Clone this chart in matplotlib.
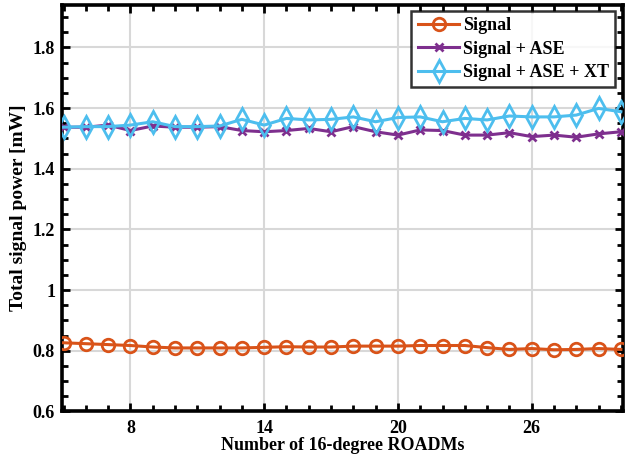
import matplotlib
matplotlib.use("Agg")
import matplotlib.pyplot as plt
from matplotlib.ticker import MultipleLocator

plt.rcParams['font.family'] = ['Liberation Serif', 'DejaVu Serif']
plt.rcParams['font.weight'] = 'bold'

x_roadms = list(range(5, 31))
signal = [0.826, 0.823, 0.820, 0.817, 0.812, 0.809, 0.809, 0.809, 0.809, 0.811, 0.813, 0.812,
          0.812, 0.815, 0.815, 0.815, 0.817, 0.817, 0.817, 0.810, 0.804, 0.807, 0.803, 0.804, 0.807, 0.804]
signal_ase = [1.537, 1.537, 1.544, 1.526, 1.541, 1.537, 1.537, 1.539, 1.526, 1.522, 1.526, 1.533,
              1.522, 1.539, 1.522, 1.511, 1.528, 1.526, 1.511, 1.511, 1.519, 1.506, 1.511, 1.504, 1.515, 1.522]
signal_ase_xt = [1.537, 1.539, 1.539, 1.544, 1.555, 1.539, 1.539, 1.541, 1.563, 1.544, 1.566, 1.561,
                 1.563, 1.571, 1.555, 1.569, 1.571, 1.555, 1.566, 1.561, 1.574, 1.571, 1.571, 1.577, 1.599, 1.588]

labels = ['Signal', 'Signal + ASE', 'Signal + ASE + XT']
xticks = [8, 14, 20, 26]
yticks = [0.6, 0.8, 1.0, 1.2, 1.4, 1.6, 1.8]
yticklabels = ['0.6', '0.8', '1', '1.2', '1.4', '1.6', '1.8']

fig = plt.figure(figsize=(6.3, 4.57), dpi=100)
ax = fig.add_axes([0.0984, 0.1, 0.8906, 0.889])

ax.plot(x_roadms, signal, color='#D95319', lw=2.2, marker='o', ms=9, mfc='none', mew=2, label=labels[0], zorder=3)
ax.plot(x_roadms, signal_ase, color='#7E2F8E', lw=2.2, marker='x', ms=6, mew=2, label=labels[1], zorder=4)
ax.plot(x_roadms, signal_ase_xt, color='#4DBEEE', lw=2.2, marker='d', ms=11, mfc='none', mew=2, label=labels[2], zorder=5)

ax.set_xlim(4.93, 30.1)
ax.set_ylim(0.6, 1.94)
ax.set_xticks(xticks)
ax.set_yticks(yticks)
ax.set_yticklabels(yticklabels)
ax.xaxis.set_minor_locator(MultipleLocator(1))
ax.yaxis.set_minor_locator(MultipleLocator(0.05))
ax.tick_params(which='both', direction='in', top=True, right=True, width=2, labelsize=13)
ax.tick_params(which='major', length=6)
ax.tick_params(which='minor', length=4)
ax.tick_params(axis='x', which='major', pad=6)
ax.tick_params(axis='y', which='major', pad=5)
for lab in ax.get_xticklabels() + ax.get_yticklabels():
    lab.set_fontweight('bold')
for s in ax.spines.values():
    s.set_linewidth(2.6)
ax.grid(True, which='major', color='#d8d8d8', lw=1.5)
ax.set_axisbelow(True)

ax.set_xlabel('Number of 16-degree ROADMs', fontsize=13, fontweight='bold', labelpad=0)
ax.set_ylabel('Total signal power [mW]', fontsize=14, fontweight='bold', labelpad=4)

leg = ax.legend(loc='upper right', fontsize=13, frameon=True, fancybox=False, edgecolor='black',
                bbox_to_anchor=(0.986, 0.985), borderaxespad=0.0,
                handlelength=2.3, handletextpad=0.2, borderpad=0.35, labelspacing=0.35)
leg.get_frame().set_linewidth(1.8)
for t in leg.get_texts():
    t.set_fontweight('bold')

fig.savefig('out.png', dpi=100)
